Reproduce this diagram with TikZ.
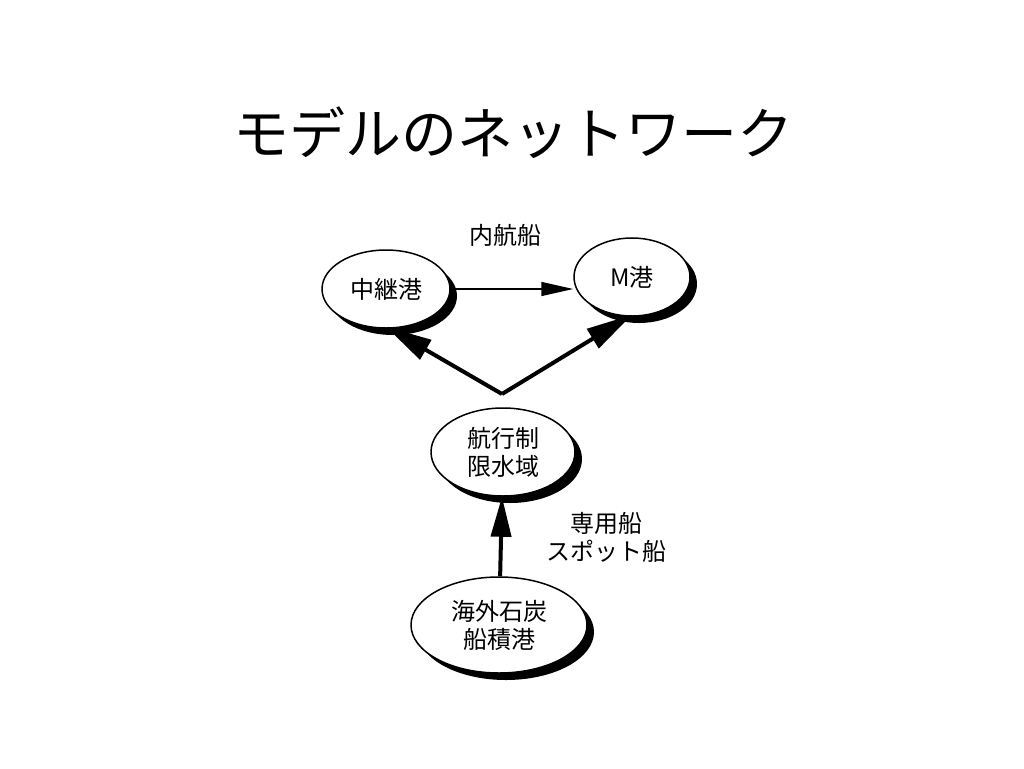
\documentclass[tikz,border=0pt]{standalone}
\usepackage{fontspec}
\newfontfamily\jp{Noto Sans CJK JP}
\usetikzlibrary{arrows.meta,shapes.geometric,shadows}
\begin{document}
\begin{tikzpicture}[x=1pt,y=-1pt]
  \tikzstyle{port}=[ellipse, draw=black, line width=1.5pt, fill=white, inner sep=0pt,
    font=\jp\fontsize{24}{28}\selectfont, align=center,
    drop shadow={shadow xshift=7pt, shadow yshift=-7pt, fill=black, opacity=1}]
  \tikzstyle{route}=[line width=4pt, -{Triangle[length=46pt,width=22pt]}]
  \tikzstyle{label}=[font=\jp\fontsize{24}{28}\selectfont, align=center]
  \useasboundingbox (0,0) rectangle (1024,768);
  \node[font=\jp\fontsize{56}{60}\selectfont] (title) at (513,133) {モデルのネットワーク};
  \node[port, minimum width=128pt, minimum height=78pt] (relay) at (386,289) {中継港};
  \node[port, minimum width=116pt, minimum height=78pt] (mport) at (632,277) {M港};
  \node[port, minimum width=144pt, minimum height=88pt] (strait) at (503,452) {航行制\\限水域};
  \node[port, minimum width=176pt, minimum height=96pt] (origin) at (499,625) {海外石炭\\船積港};
  \coordinate (fork) at (502,394);
  \node[label] (coastal) at (505,235) {内航船};
  \node[label] (charter) at (606,537) {専用船\\スポット船};
  \draw[line width=1.5pt, -{Triangle[length=32pt,width=14pt]}] (relay) -- (relay -| mport.west);
  \draw[route] (fork) -- ([yshift=2pt]relay.south);
  \draw[route] (fork) -- ([yshift=2pt]mport.south);
  \draw[route, -{Triangle[length=40pt,width=20pt]}] (origin) -- (strait);
\end{tikzpicture}
\end{document}
